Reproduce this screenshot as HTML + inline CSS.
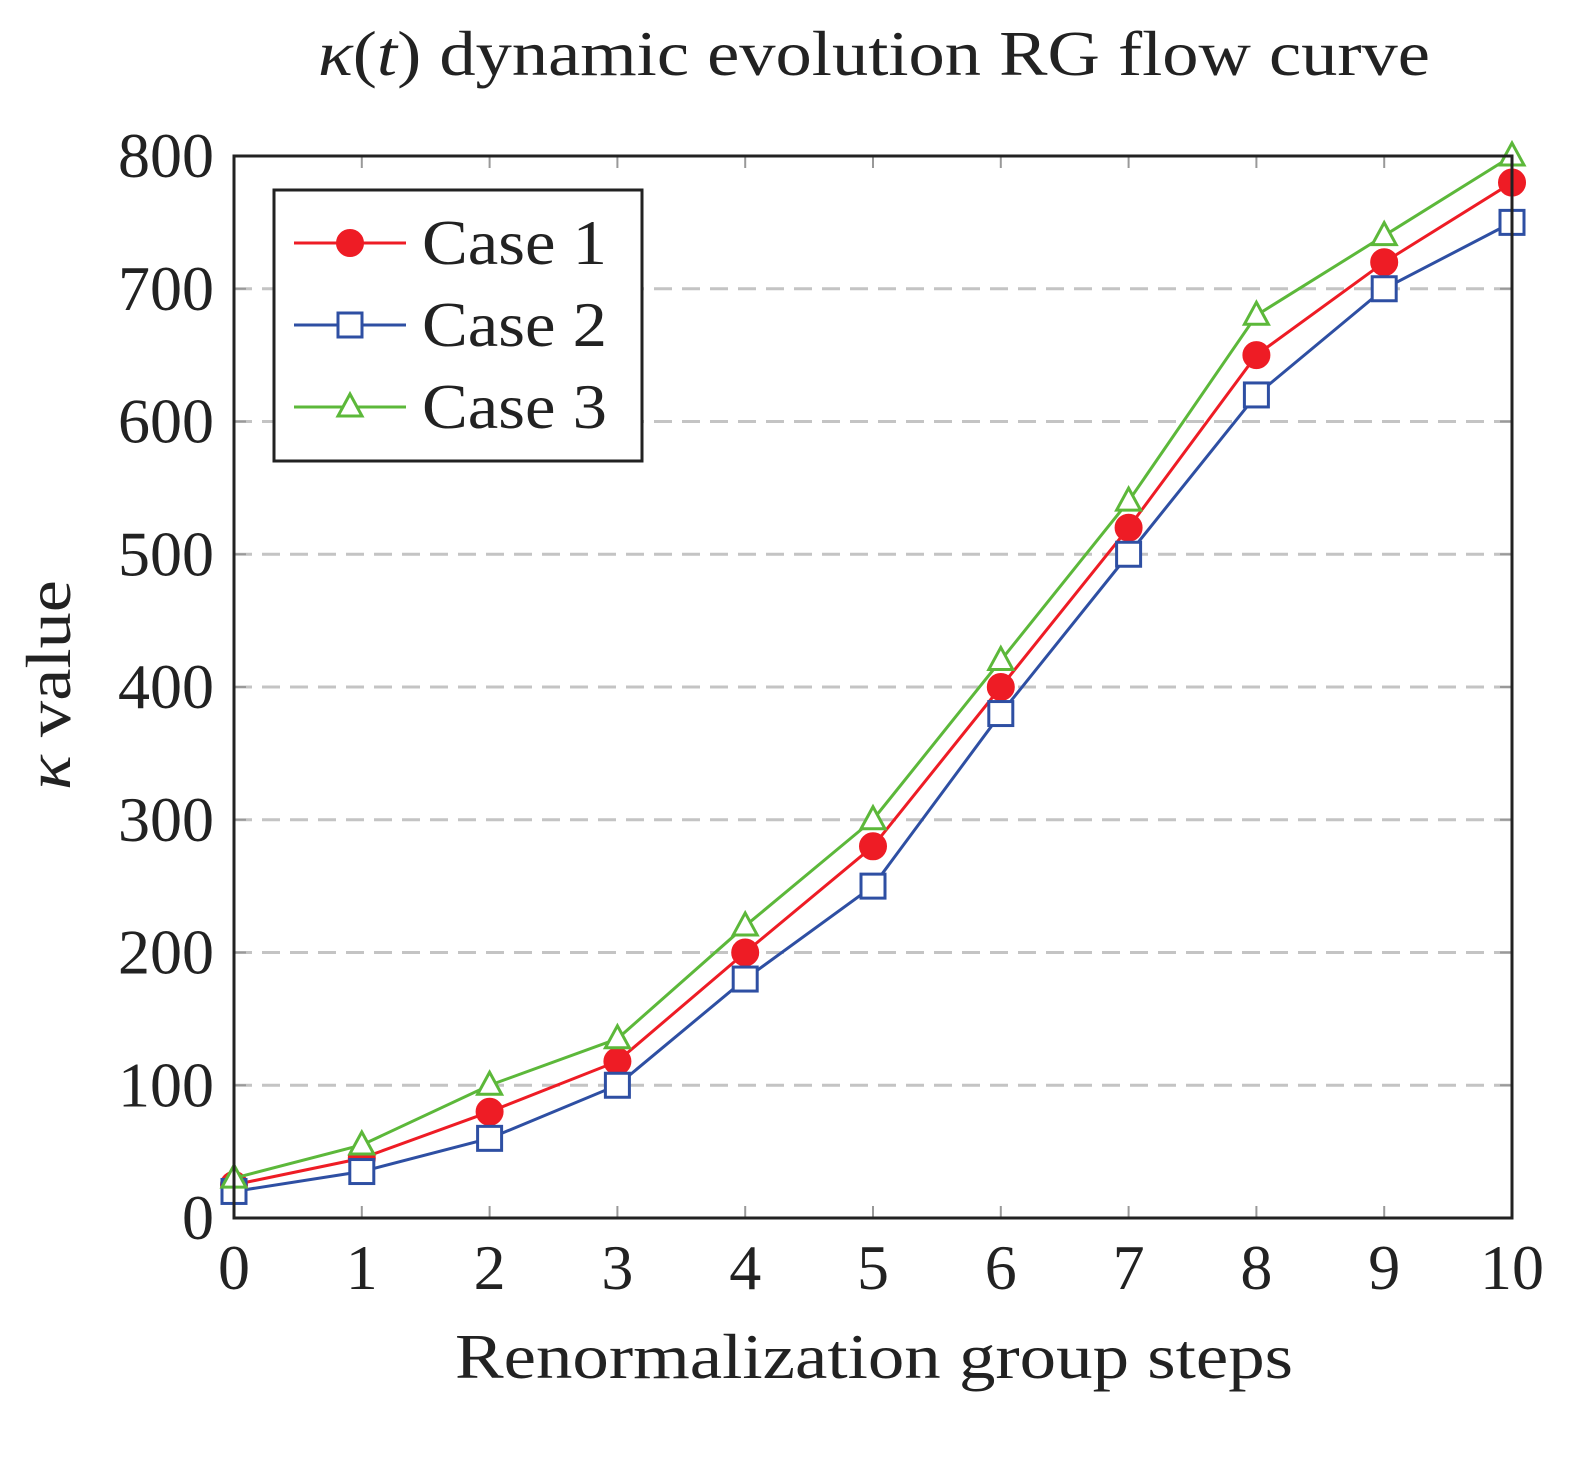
<!DOCTYPE html>
<html><head><meta charset="utf-8"><style>
body{margin:0;background:#fff;}
text{font-family:"Liberation Serif",serif;fill:#222;}
</style></head><body>
<svg id="chart" width="1590" height="1467" viewBox="0 0 1590 1467" xmlns="http://www.w3.org/2000/svg">
<g id="grid"></g><g id="series"></g><g id="axes"></g>
</svg>
<script>
const categories=[0,1,2,3,4,5,6,7,8,9,10];
const case1=[25,45,80,118,200,280,400,520,650,720,780];
const case2=[20,35,60,100,180,250,380,500,620,700,750];
const case3=[30,55,100,135,220,300,420,540,680,740,800];
const yTicks=[0,100,200,300,400,500,600,700,800];
const seriesNames=["Case 1","Case 2","Case 3"];
const NS="http://www.w3.org/2000/svg";
const X0=234,X1=1512,Y0=1218,Y1=156;
const xs=v=>X0+(v-0)/10*(X1-X0);
const ys=v=>Y0-(v/800)*(Y0-Y1);
function mk(tag,attrs,parent,txt){const e=document.createElementNS(NS,tag);for(const k in attrs)e.setAttribute(k,attrs[k]);if(txt!==undefined)e.textContent=txt;parent.appendChild(e);return e;}
const svg=document.getElementById('chart');
const grid=document.getElementById('grid'),ser=document.getElementById('series'),ax=document.getElementById('axes');
yTicks.forEach(t=>{
 if(t>0&&t<800){const l=mk('line',{x1:X0,x2:X1,y1:ys(t),y2:ys(t),stroke:'#c4c4c4','stroke-width':3,'stroke-dasharray':'18,10'},grid);
 
 }
 mk('line',{x1:X0,x2:X0+12,y1:ys(t),y2:ys(t),stroke:'#999','stroke-width':2},ax);
 mk('line',{x1:X1,x2:X1-12,y1:ys(t),y2:ys(t),stroke:'#999','stroke-width':2},ax);
 const tx=mk('text',{x:X0-20,y:ys(t)+21,'text-anchor':'end','font-size':64},ax,String(t));
 
 
});
categories.forEach(c=>{
 mk('line',{x1:xs(c),x2:xs(c),y1:Y0,y2:Y0-12,stroke:'#999','stroke-width':2},ax);
 mk('line',{x1:xs(c),x2:xs(c),y1:Y1,y2:Y1+12,stroke:'#999','stroke-width':2},ax);
 const tx=mk('text',{x:xs(c),y:1289,'text-anchor':'middle','font-size':64},ax,String(c));
 
 
});
const frame=mk('rect',{x:X0,y:Y1,width:X1-X0,height:Y0-Y1,fill:'none',stroke:'#222','stroke-width':3},ax);


function marker(type,x,y,col,parent){
 if(type===0)return mk('circle',{cx:x,cy:y,r:13,fill:col,stroke:col,'stroke-width':2},parent);
 if(type===1)return mk('rect',{x:x-12,y:y-12,width:24,height:24,fill:'#fff',stroke:col,'stroke-width':3},parent);
 return mk('polygon',{points:`${x},${y-13} ${x-12},${y+9} ${x+12},${y+9}`,fill:'#fff',stroke:col,'stroke-width':3},parent);
}
const cols=['#ee1c25','#2e4fa3','#5cb83a'];
[case1,case2,case3].forEach((d,i)=>{
 const g=mk('g',{},ser);
 
 
 const p=mk('polyline',{points:d.map((v,j)=>xs(categories[j])+','+ys(v)).join(' '),fill:'none',stroke:cols[i],'stroke-width':3},g);
 
 
 d.forEach((v,j)=>{const m=marker(i,xs(categories[j]),ys(v),cols[i],g);
 
 });
});
const lg=mk('g',{},svg);


mk('rect',{x:274,y:190,width:368,height:271,fill:'#fff',stroke:'#222','stroke-width':3},lg);
seriesNames.forEach((n,i)=>{
 const y=243+i*82;
 const e=mk('g',{},lg);
 
 
 mk('line',{x1:294,x2:406,y1:y,y2:y,stroke:cols[i],'stroke-width':3},e);
 marker(i,350,y,cols[i],e);
 mk('text',{x:422,y:y+21,'font-size':64,textLength:185,lengthAdjust:'spacingAndGlyphs'},e,n);
});
const t=mk('text',{x:318,y:75,'font-size':64,textLength:1112,lengthAdjust:'spacingAndGlyphs'},svg);
t.innerHTML='<tspan font-style="italic">κ</tspan>(<tspan font-style="italic">t</tspan>) dynamic evolution RG flow curve';


const xt=mk('text',{x:455,y:1378,'font-size':64,textLength:838,lengthAdjust:'spacingAndGlyphs'},svg,'Renormalization group steps');


const yt=mk('text',{x:0,y:0,'font-size':64,textLength:210,lengthAdjust:'spacingAndGlyphs',transform:'translate(70,790) rotate(-90)'},svg);
yt.innerHTML='<tspan font-style="italic">κ</tspan> value';


</script>
</body></html>
